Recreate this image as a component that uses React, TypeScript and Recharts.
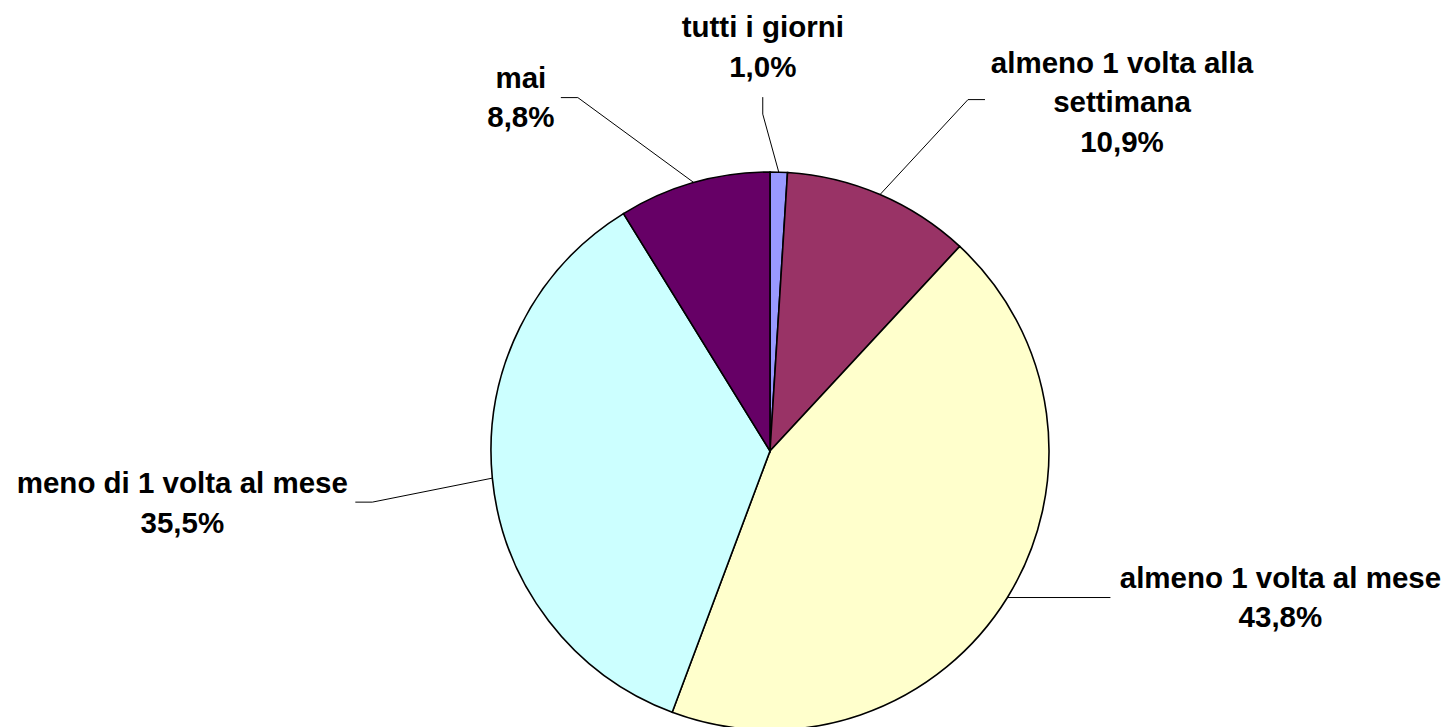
import React from "react";
import { PieChart, Pie, Cell } from "recharts";

const categories = [
  "tutti i giorni",
  "almeno 1 volta alla\nsettimana",
  "almeno 1 volta al mese",
  "meno di 1 volta al mese",
  "mai",
];
const values = [1.0, 10.9, 43.8, 35.5, 8.8];
const colors = ["#9999FF", "#993366", "#FFFFCC", "#CCFFFF", "#660066"];

// label layout: elbow offset from slice edge, line end offset from elbow, text offset from line end
const elbowOffsets = [
  [-16, -58],
  [88, -95],
  [0, 0],
  [-120, 24],
  [-116, -85],
];
const endOffsets = [
  [0, -17],
  [17, 0],
  [103, 0],
  [-17, 0],
  [-17, 0],
];
const textOffsets = [
  [0, -60],
  [137, -27],
  [170, -10],
  [-173, -9],
  [-40, -10],
];

const data = categories.map((name, i) => ({ name, value: values[i] }));

const RAD = Math.PI / 180;
const FONT = "'Liberation Sans', Arial, sans-serif";
const LINE_H = 39.5;

const renderLabel = (props: any) => {
  const { cx, cy, midAngle, outerRadius, index } = props;
  const ex = cx + outerRadius * Math.cos(-midAngle * RAD);
  const ey = cy + outerRadius * Math.sin(-midAngle * RAD);
  const bx = ex + elbowOffsets[index][0];
  const by = ey + elbowOffsets[index][1];
  const tx = bx + endOffsets[index][0];
  const ty = by + endOffsets[index][1];
  const lx = tx + textOffsets[index][0];
  const ly = ty + textOffsets[index][1];
  const lines = [
    ...categories[index].split("\n"),
    values[index].toFixed(1).replace(".", ",") + "%",
  ];
  return (
    <g key={`lbl-${index}`}>
      <polyline
        points={`${ex},${ey} ${bx},${by} ${tx},${ty}`}
        fill="none"
        stroke="#000"
        strokeWidth={1}
      />
      <text
        x={lx}
        y={ly}
        textAnchor="middle"
        fontFamily={FONT}
        fontWeight="bold"
        fontSize={29.5}
        fill="#000"
      >
        {lines.map((t, k) => (
          <tspan key={k} x={lx} y={ly + k * LINE_H}>
            {t}
          </tspan>
        ))}
      </text>
    </g>
  );
};

export default function App() {
  return (
    <div style={{ position: "absolute", left: 0, top: 0, width: 1448, height: 727, background: "#fff" }}>
      <PieChart width={1448} height={727} margin={{ top: 0, right: 0, bottom: 0, left: 0 }}>
        <Pie
          data={data}
          dataKey="value"
          nameKey="name"
          cx={770}
          cy={451}
          outerRadius={279}
          startAngle={90}
          endAngle={-270}
          stroke="#000"
          strokeWidth={1.6}
          label={renderLabel}
          labelLine={false}
          isAnimationActive={false}
        >
          {data.map((d, i) => (
            <Cell key={d.name} fill={colors[i]} />
          ))}
        </Pie>
      </PieChart>
    </div>
  );
}
